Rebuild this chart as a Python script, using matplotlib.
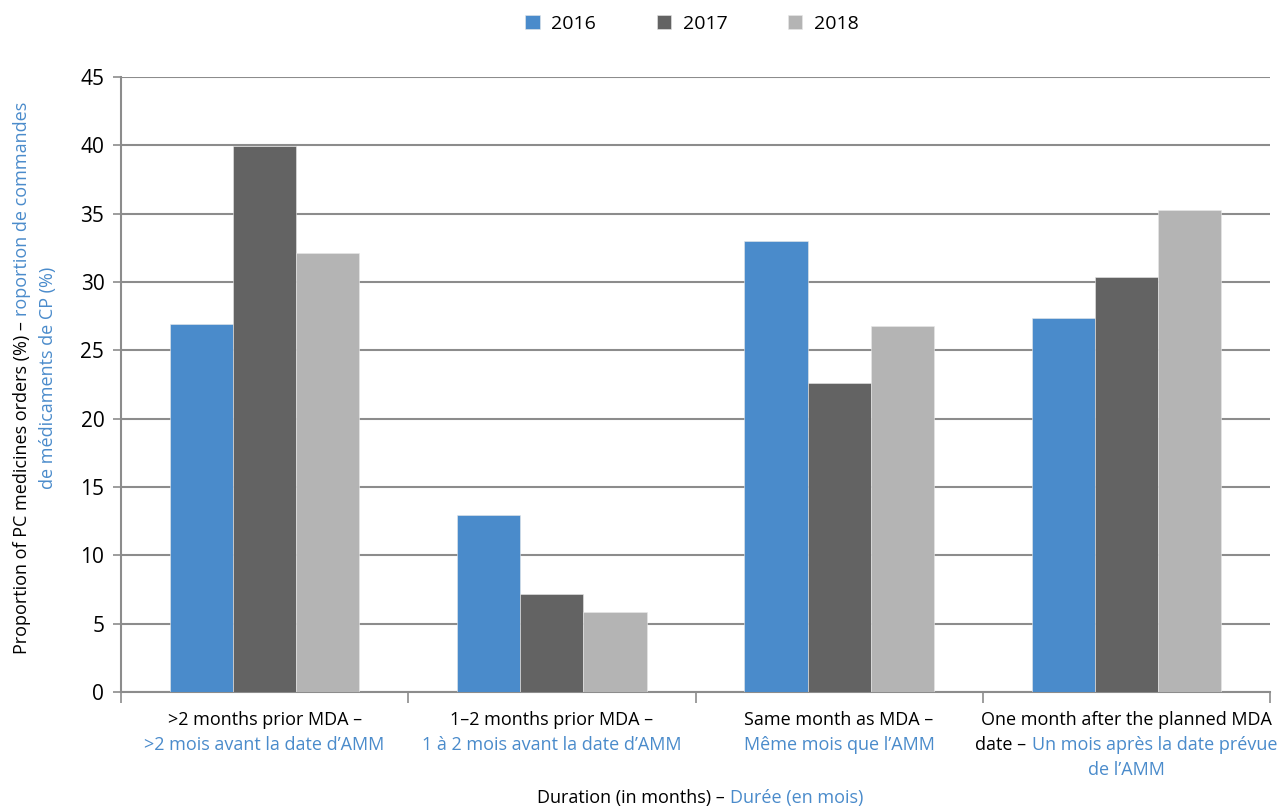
import matplotlib
matplotlib.use("Agg")
import matplotlib.pyplot as plt
import numpy as np
from matplotlib.offsetbox import TextArea, HPacker, VPacker, AnnotationBbox
from matplotlib.transforms import IdentityTransform

# ---------------- data ----------------
years = ["2016", "2017", "2018"]
categories_en = [">2 months prior MDA –", "1–2 months prior MDA –", "Same month as MDA –",
                 "One month after the planned MDA date –"]
categories_fr = [">2 mois avant la date d’AMM", "1 à 2 mois avant la date d’AMM",
                 "Même mois que l’AMM", "Un mois après la date prévue de l’AMM"]
values_2016 = [26.9, 12.95, 33.0, 27.35]
values_2017 = [39.95, 7.15, 22.6, 30.4]
values_2018 = [32.1, 5.85, 26.8, 35.3]
yticks = [0, 5, 10, 15, 20, 25, 30, 35, 40, 45]

colors = ["#4A8BCB", "#636363", "#B4B4B4"]
BLUE = "#4A8BCB"
NARROW = ["Liberation Sans Narrow", "Open Sans", "DejaVu Sans"]
NUMF = ["Open Sans", "DejaVu Sans"]
GRID = "#8C8C8C"

W, H = 1280, 808
fig = plt.figure(figsize=(W / 100, H / 100), dpi=100)
ax = fig.add_axes([121 / W, 1 - 692 / H, (1270 - 121) / W, (692 - 77) / H])

x = np.arange(len(categories_en))
bw = 0.22
series = [values_2016, values_2017, values_2018]
for i, (vals, yr) in enumerate(zip(series, years)):
    ax.bar(x + (i - 1) * bw, vals, width=bw, color=colors[i], label=yr, zorder=3,
           edgecolor="#E8E8E8", linewidth=0.4)

ax.set_xlim(-0.5, len(categories_en) - 0.5)
ax.set_ylim(0, 45)
ax.set_yticks(yticks)
ax.set_yticklabels([str(t) for t in yticks], fontfamily=NUMF, fontsize=15, color="black")
ax.yaxis.grid(True, color=GRID, linewidth=1.5, zorder=0)
ax.set_axisbelow(True)
for s in ["top", "right"]:
    ax.spines[s].set_visible(False)
for s in ["left", "bottom"]:
    ax.spines[s].set_color(GRID)
    ax.spines[s].set_linewidth(1.5)
ax.tick_params(axis="y", direction="out", length=6, width=1.2, color=GRID, pad=6)
ax.set_xticks(np.arange(len(categories_en) + 1) - 0.5)
ax.set_xticklabels([])
ax.tick_params(axis="x", direction="out", length=8, width=1.2, color=GRID)

# ---------------- category labels (two-colour) ----------------
def ta(s, c):
    return TextArea(s, textprops=dict(color=c, fontfamily=NARROW, fontsize=13))

label_lines = [
    [[(">2 months prior MDA –", "black")], [(">2 mois avant la date d’AMM", BLUE)]],
    [[("1–2 months prior MDA –", "black")], [("1 à 2 mois avant la date d’AMM", BLUE)]],
    [[("Same month as MDA –", "black")], [("Même mois que l’AMM", BLUE)]],
    [[("One month after the planned MDA", "black")],
     [("date –", "black"), ("Un mois après la date prévue", BLUE)],
     [("de l’AMM", BLUE)]],
]
for xi, lines in zip(x, label_lines):
    rows = []
    for line in lines:
        rows.append(HPacker(children=[ta(s, c) for s, c in line], sep=4, pad=0, align="baseline"))
    box = VPacker(children=rows, sep=5, pad=0, align="center")
    ab = AnnotationBbox(box, (xi, 0), xycoords=("data", "axes fraction"),
                        xybox=(0, -14), boxcoords="offset points",
                        box_alignment=(0.5, 1), frameon=False, annotation_clip=False)
    ax.add_artist(ab)

# x axis title
xt = HPacker(children=[ta("Duration (in months) –", "black"), ta("Durée (en mois)", BLUE)],
             sep=4, pad=0, align="baseline")
ab = AnnotationBbox(xt, (700 / W, 1 - 798 / H), xycoords="figure fraction",
                    box_alignment=(0.5, 0.5), frameon=False, annotation_clip=False)
fig.add_artist(ab)

# ---------------- y axis title (rotated, two-colour) ----------------
renderer = fig.canvas.get_renderer()
def width_of(s):
    t = fig.text(0, 0, s, fontfamily=NARROW, fontsize=13)
    w = t.get_window_extent(renderer).width
    t.remove()
    return w

p1 = "Proportion of PC medicines orders (%) –"
p2 = "roportion de commandes"
p3 = "de médicaments de CP (%)"
gap = 5
w1, w2 = width_of(p1), width_of(p2)
yc = H - 378
L = w1 + gap + w2
xb1, xb2 = 27, 53
common = dict(fontfamily=NARROW, fontsize=13, rotation=90, rotation_mode="anchor",
              transform=IdentityTransform(), va="baseline")
fig.text(xb1, yc - L / 2, p1, color="black", ha="left", **common)
fig.text(xb1, yc - L / 2 + w1 + gap, p2, color=BLUE, ha="left", **common)
fig.text(xb2, yc, p3, color=BLUE, ha="center", **common)

# ---------------- legend ----------------
fig.legend(loc="center", bbox_to_anchor=(692 / W, 1 - 24 / H), ncol=3, frameon=False,
           prop=dict(family=NUMF, size=14), handlelength=0.75, handleheight=0.75,
           handletextpad=0.6, columnspacing=3.1)

fig.savefig("out.png", dpi=100)
